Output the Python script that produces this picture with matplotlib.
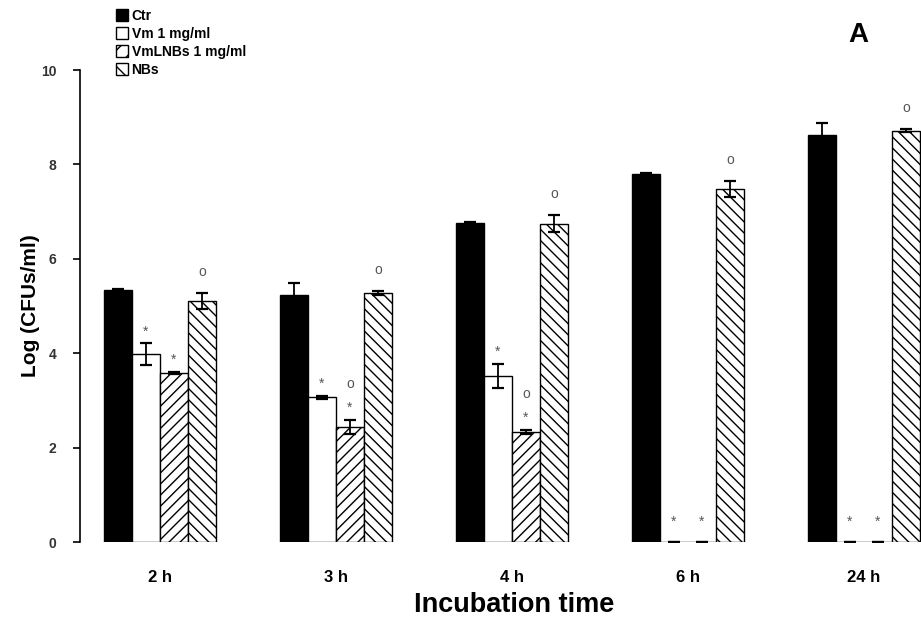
import numpy as np
import matplotlib.pyplot as plt
from matplotlib.patches import Patch

plt.rcParams['font.family'] = ['Liberation Sans', 'DejaVu Sans']
plt.rcParams['hatch.linewidth'] = 1.0

times = ['2 h', '3 h', '4 h', '6 h', '24 h']
series = ['Ctr', 'Vm 1 mg/ml', 'VmLNBs 1 mg/ml', 'NBs']

ctr = [5.34, 5.23, 6.76, 7.80, 8.62]
ctr_err = [0.03, 0.25, 0.03, 0.02, 0.26]
vm = [3.98, 3.07, 3.52, 0.0, 0.0]
vm_err = [0.23, 0.03, 0.25, 0.0, 0.0]
vmlnbs = [3.58, 2.44, 2.33, 0.0, 0.0]
vmlnbs_err = [0.03, 0.15, 0.05, 0.0, 0.0]
nbs = [5.10, 5.27, 6.74, 7.48, 8.71]
nbs_err = [0.17, 0.04, 0.18, 0.17, 0.03]

# significance marks: '*' vs control, 'o' vs Vm
star_vm = [True, True, True, True, True]
star_vmlnbs = [True, True, True, True, True]
circ_vmlnbs = [False, True, True, False, False]
circ_nbs = [True, True, True, True, True]

values = [ctr, vm, vmlnbs, nbs]
errors = [ctr_err, vm_err, vmlnbs_err, nbs_err]
faces = ['black', 'white', 'white', 'white']
hatches = [None, None, '///', '\\\\\\']

fig = plt.figure(figsize=(9.21, 6.21), dpi=100)
ax = fig.add_axes([80 / 921, 79 / 621, 841 / 921, 472 / 621])

x = np.arange(len(times))
w = 0.159
offs = [-1.5 * w, -0.5 * w, 0.5 * w, 1.5 * w]

for vals, errs, fc, h, off, lab in zip(values, errors, faces, hatches, offs, series):
    ax.bar(x + off, vals, w, color=fc, edgecolor='black', hatch=h,
           linewidth=1.0, label=lab, zorder=2)
    ax.errorbar(x + off, vals, yerr=errs, fmt='none', ecolor='black',
                elinewidth=1.3, capsize=4, capthick=1.6, zorder=3)

mark_kw = dict(ha='center', va='center', color='#555555', fontsize=10, zorder=4)
for i in range(len(times)):
    for off, vals, errs, star in [(offs[1], vm, vm_err, star_vm[i]),
                                  (offs[2], vmlnbs, vmlnbs_err, star_vmlnbs[i])]:
        top = vals[i] + errs[i]
        ys = top + 0.25 if vals[i] > 0 else 0.42
        if star:
            ax.text(x[i] + off, ys, '*', **mark_kw)
        if off == offs[2] and circ_vmlnbs[i]:
            ax.text(x[i] + off, top + 0.75, 'o', **mark_kw)
    if circ_nbs[i]:
        ax.text(x[i] + offs[3], nbs[i] + nbs_err[i] + 0.45, 'o', **mark_kw)

ax.set_xlim(-80 / 176, 761 / 176)
ax.set_ylim(0, 10)
ax.set_yticks([0, 2, 4, 6, 8, 10])
ax.set_xticks(x)
ax.set_xticklabels(times, fontsize=12, fontweight='bold')
ax.tick_params(axis='x', length=0, pad=20)
ax.tick_params(axis='y', direction='out', length=5, width=1.2, labelsize=10,
               pad=12, labelcolor='#333333')
for t in ax.get_yticklabels():
    t.set_fontweight('bold')
for s in ['top', 'right', 'bottom']:
    ax.spines[s].set_visible(False)
ax.spines['left'].set_linewidth(1.2)

ax.set_ylabel('Log (CFUs/ml)', fontsize=15, fontweight='bold', labelpad=1)
fig.text(514 / 921, 1 - 605 / 621, 'Incubation time', ha='center', va='center',
         fontsize=19.5, fontweight='bold')
fig.text(858 / 921, 1 - 35 / 621, 'A', ha='center', va='center',
         fontsize=20, fontweight='bold')

leg_hatch = [None, None, '//', '\\\\']
handles = [Patch(facecolor=fc, edgecolor='black', hatch=h)
           for fc, h in zip(faces, leg_hatch)]
fig.legend(handles, series, loc='upper left', bbox_to_anchor=(110 / 921, 1 - 3 / 621),
           frameon=False, handlelength=0.9, handleheight=0.9,
           labelspacing=0.3, handletextpad=0.25, borderaxespad=0,
           prop={'weight': 'bold', 'size': 10})

fig.savefig('out.png', dpi=100)
